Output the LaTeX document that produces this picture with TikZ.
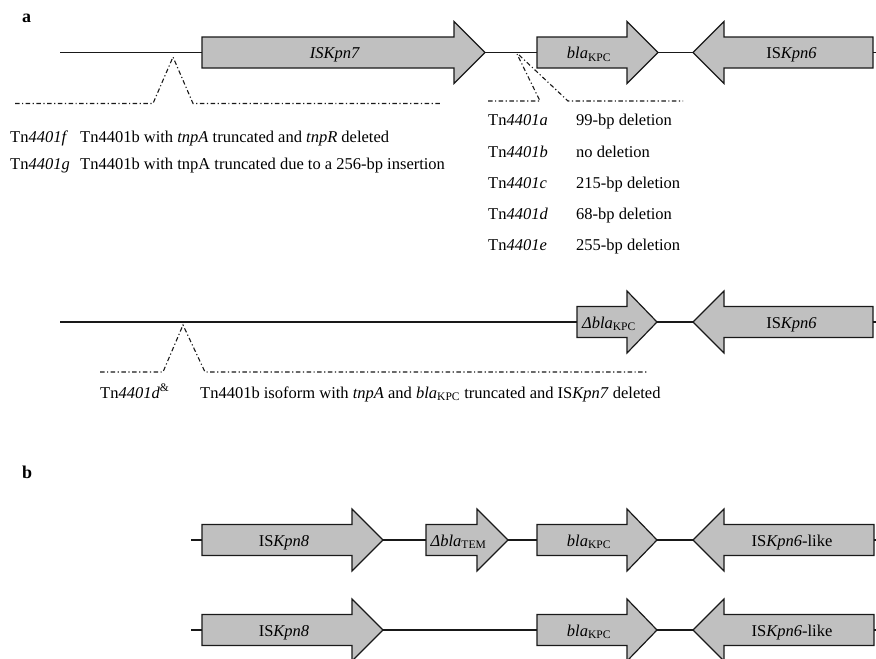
\documentclass[tikz,border=0pt]{standalone}
\usepackage{fontspec}
\setmainfont{Liberation Serif}
\definecolor{genegray}{RGB}{192,192,192}
\definecolor{inkc}{RGB}{25,25,25}
\newcommand\geneR[6]{%
  \draw[gene] (#2,#5-15.5) -- (#3,#5-15.5) -- (#3,#5-31) -- (#4,#5) -- (#3,#5+31) -- (#3,#5+15.5) -- (#2,#5+15.5) -- cycle;
  \coordinate (#1-l) at (#2,#5);
  \coordinate (#1-r) at (#4,#5);
  \node[glabel] (#1) at ({(#2+#3)/2+7},#5+6) {#6};}
\newcommand\geneL[6]{%
  \draw[gene] (#2,#5) -- (#3,#5-31) -- (#3,#5-15.5) -- (#4,#5-15.5) -- (#4,#5+15.5) -- (#3,#5+15.5) -- (#3,#5+31) -- cycle;
  \coordinate (#1-l) at (#2,#5);
  \coordinate (#1-r) at (#4,#5);
  \node[glabel] (#1) at ({(#3+#4)/2-7},#5+6) {#6};}
\begin{document}
\begin{tikzpicture}[x=1pt,y=-1pt,
  gene/.style={draw=inkc, line width=1.2pt, fill=genegray, line join=miter},
  bb/.style={line width=1.5pt, draw=inkc},
  dd/.style={line width=1.1pt, draw=inkc, dash pattern=on 4.5pt off 2.5pt on 1.2pt off 2.5pt},
  txt/.style={anchor=base west, inner sep=0pt, font=\fontsize{16.5}{19}\selectfont},
  glabel/.style={anchor=base, inner sep=0pt, font=\fontsize{16.5}{19}\selectfont},
  panel/.style={anchor=base west, inner sep=0pt, font=\fontsize{18}{20}\selectfont\bfseries}]
\useasboundingbox (0,0) rectangle (876,659);

% panel labels
\node[panel] (pa) at (22,22) {a};
\node[panel] (pb) at (22,478) {b};

% ---------- row a ----------
\coordinate (a0) at (60,52.5);
\geneR{iskpn7}{202}{454}{485}{52.5}{\textit{ISKpn7}}
\geneR{blaA}{537}{627}{658}{52.5}{\textit{bla}\textsubscript{KPC}}
\geneL{iskpn6A}{693}{724}{873}{52.5}{IS\textit{Kpn6}}
\coordinate (a1) at (876,52.5);
\draw[bb] (a0) -- (iskpn7-l) (iskpn7-r) -- (blaA-l) (blaA-r) -- (iskpn6A-l) (iskpn6A-r) -- (a1);

% insertion marks row a
\coordinate (f0) at (15,103.5);
\coordinate (f1) at (153,103.5);
\coordinate (fap) at (173,57);
\coordinate (f2) at (193,103.5);
\coordinate (f3) at (440,103.5);
\draw[dd] (f0) -- (f1) -- (fap) -- (f2) -- (f3);
\coordinate (r0) at (488,101);
\coordinate (r1) at (540,101);
\coordinate (rap) at (517,54);
\coordinate (rap2) at (519,55);
\coordinate (r2) at (568,101);
\coordinate (r3) at (683,101);
\draw[dd] (r0) -- (r1) -- (rap);
\draw[dd] (rap2) -- (r2) -- (r3);

% texts row a
\node[txt] (tf) at (10,142) {Tn\textit{4401f}};
\node[txt] (tfd) at (80,142) {Tn4401b with \textit{tnpA} truncated and \textit{tnpR} deleted};
\node[txt] (tg) at (10,169) {Tn\textit{4401g}};
\node[txt] (tgd) at (80,169) {Tn4401b with tnpA truncated due to a 256-bp insertion};
\node[txt] (ta) at (488,125) {Tn\textit{4401a}};
\node[txt] (tad) at (576,125) {99-bp deletion};
\node[txt] (tb) at (488,157) {Tn\textit{4401b}};
\node[txt] (tbd) at (576,157) {no deletion};
\node[txt] (tc) at (488,188) {Tn\textit{4401c}};
\node[txt] (tcd) at (576,188) {215-bp deletion};
\node[txt] (td) at (488,219) {Tn\textit{4401d}};
\node[txt] (tdd) at (576,219) {68-bp deletion};
\node[txt] (te) at (488,250) {Tn\textit{4401e}};
\node[txt] (ted) at (576,250) {255-bp deletion};

% ---------- row a2 ----------
\coordinate (b0) at (60,322);
\geneR{dblaA}{577}{627}{657}{322}{\textit{Δbla}\textsubscript{KPC}}
\geneL{iskpn6B}{693}{724}{873}{322}{IS\textit{Kpn6}}
\coordinate (b1) at (876,322);
\draw[bb] (b0) -- (dblaA-l) (dblaA-r) -- (iskpn6B-l) (iskpn6B-r) -- (b1);
\coordinate (g0) at (100,372);
\coordinate (g1) at (163,372);
\coordinate (gap) at (183,325);
\coordinate (g2) at (205,372);
\coordinate (g3) at (647,372);
\draw[dd] (g0) -- (g1) -- (gap) -- (g2) -- (g3);
\node[txt] (tdamp) at (100,398) {Tn\textit{4401d}\textsuperscript{\&}};
\node[txt] (tdampd) at (200,398) {Tn4401b isoform with \textit{tnpA} and \textit{bla}\textsubscript{KPC} truncated and IS\textit{Kpn7} deleted};

% ---------- row b1 ----------
\coordinate (c0) at (191,540);
\geneR{iskpn8A}{202}{352}{383}{540}{IS\textit{Kpn8}}
\geneR{dtem}{426}{477}{508}{540}{\textit{Δbla}\textsubscript{TEM}}
\geneR{blaB}{537}{627}{657}{540}{\textit{bla}\textsubscript{KPC}}
\geneL{iskpn6C}{693}{724}{874}{540}{IS\textit{Kpn6}-like}
\coordinate (c1) at (876,540);
\draw[bb] (c0) -- (iskpn8A-l) (iskpn8A-r) -- (dtem-l) (dtem-r) -- (blaB-l) (blaB-r) -- (iskpn6C-l) (iskpn6C-r) -- (c1);

% ---------- row b2 ----------
\coordinate (d0) at (191,630);
\geneR{iskpn8B}{202}{352}{383}{630}{IS\textit{Kpn8}}
\geneR{blaC}{537}{627}{657}{630}{\textit{bla}\textsubscript{KPC}}
\geneL{iskpn6D}{693}{724}{874}{630}{IS\textit{Kpn6}-like}
\coordinate (d1) at (876,630);
\draw[bb] (d0) -- (iskpn8B-l) (iskpn8B-r) -- (blaC-l) (blaC-r) -- (iskpn6D-l) (iskpn6D-r) -- (d1);
\end{tikzpicture}
\end{document}
